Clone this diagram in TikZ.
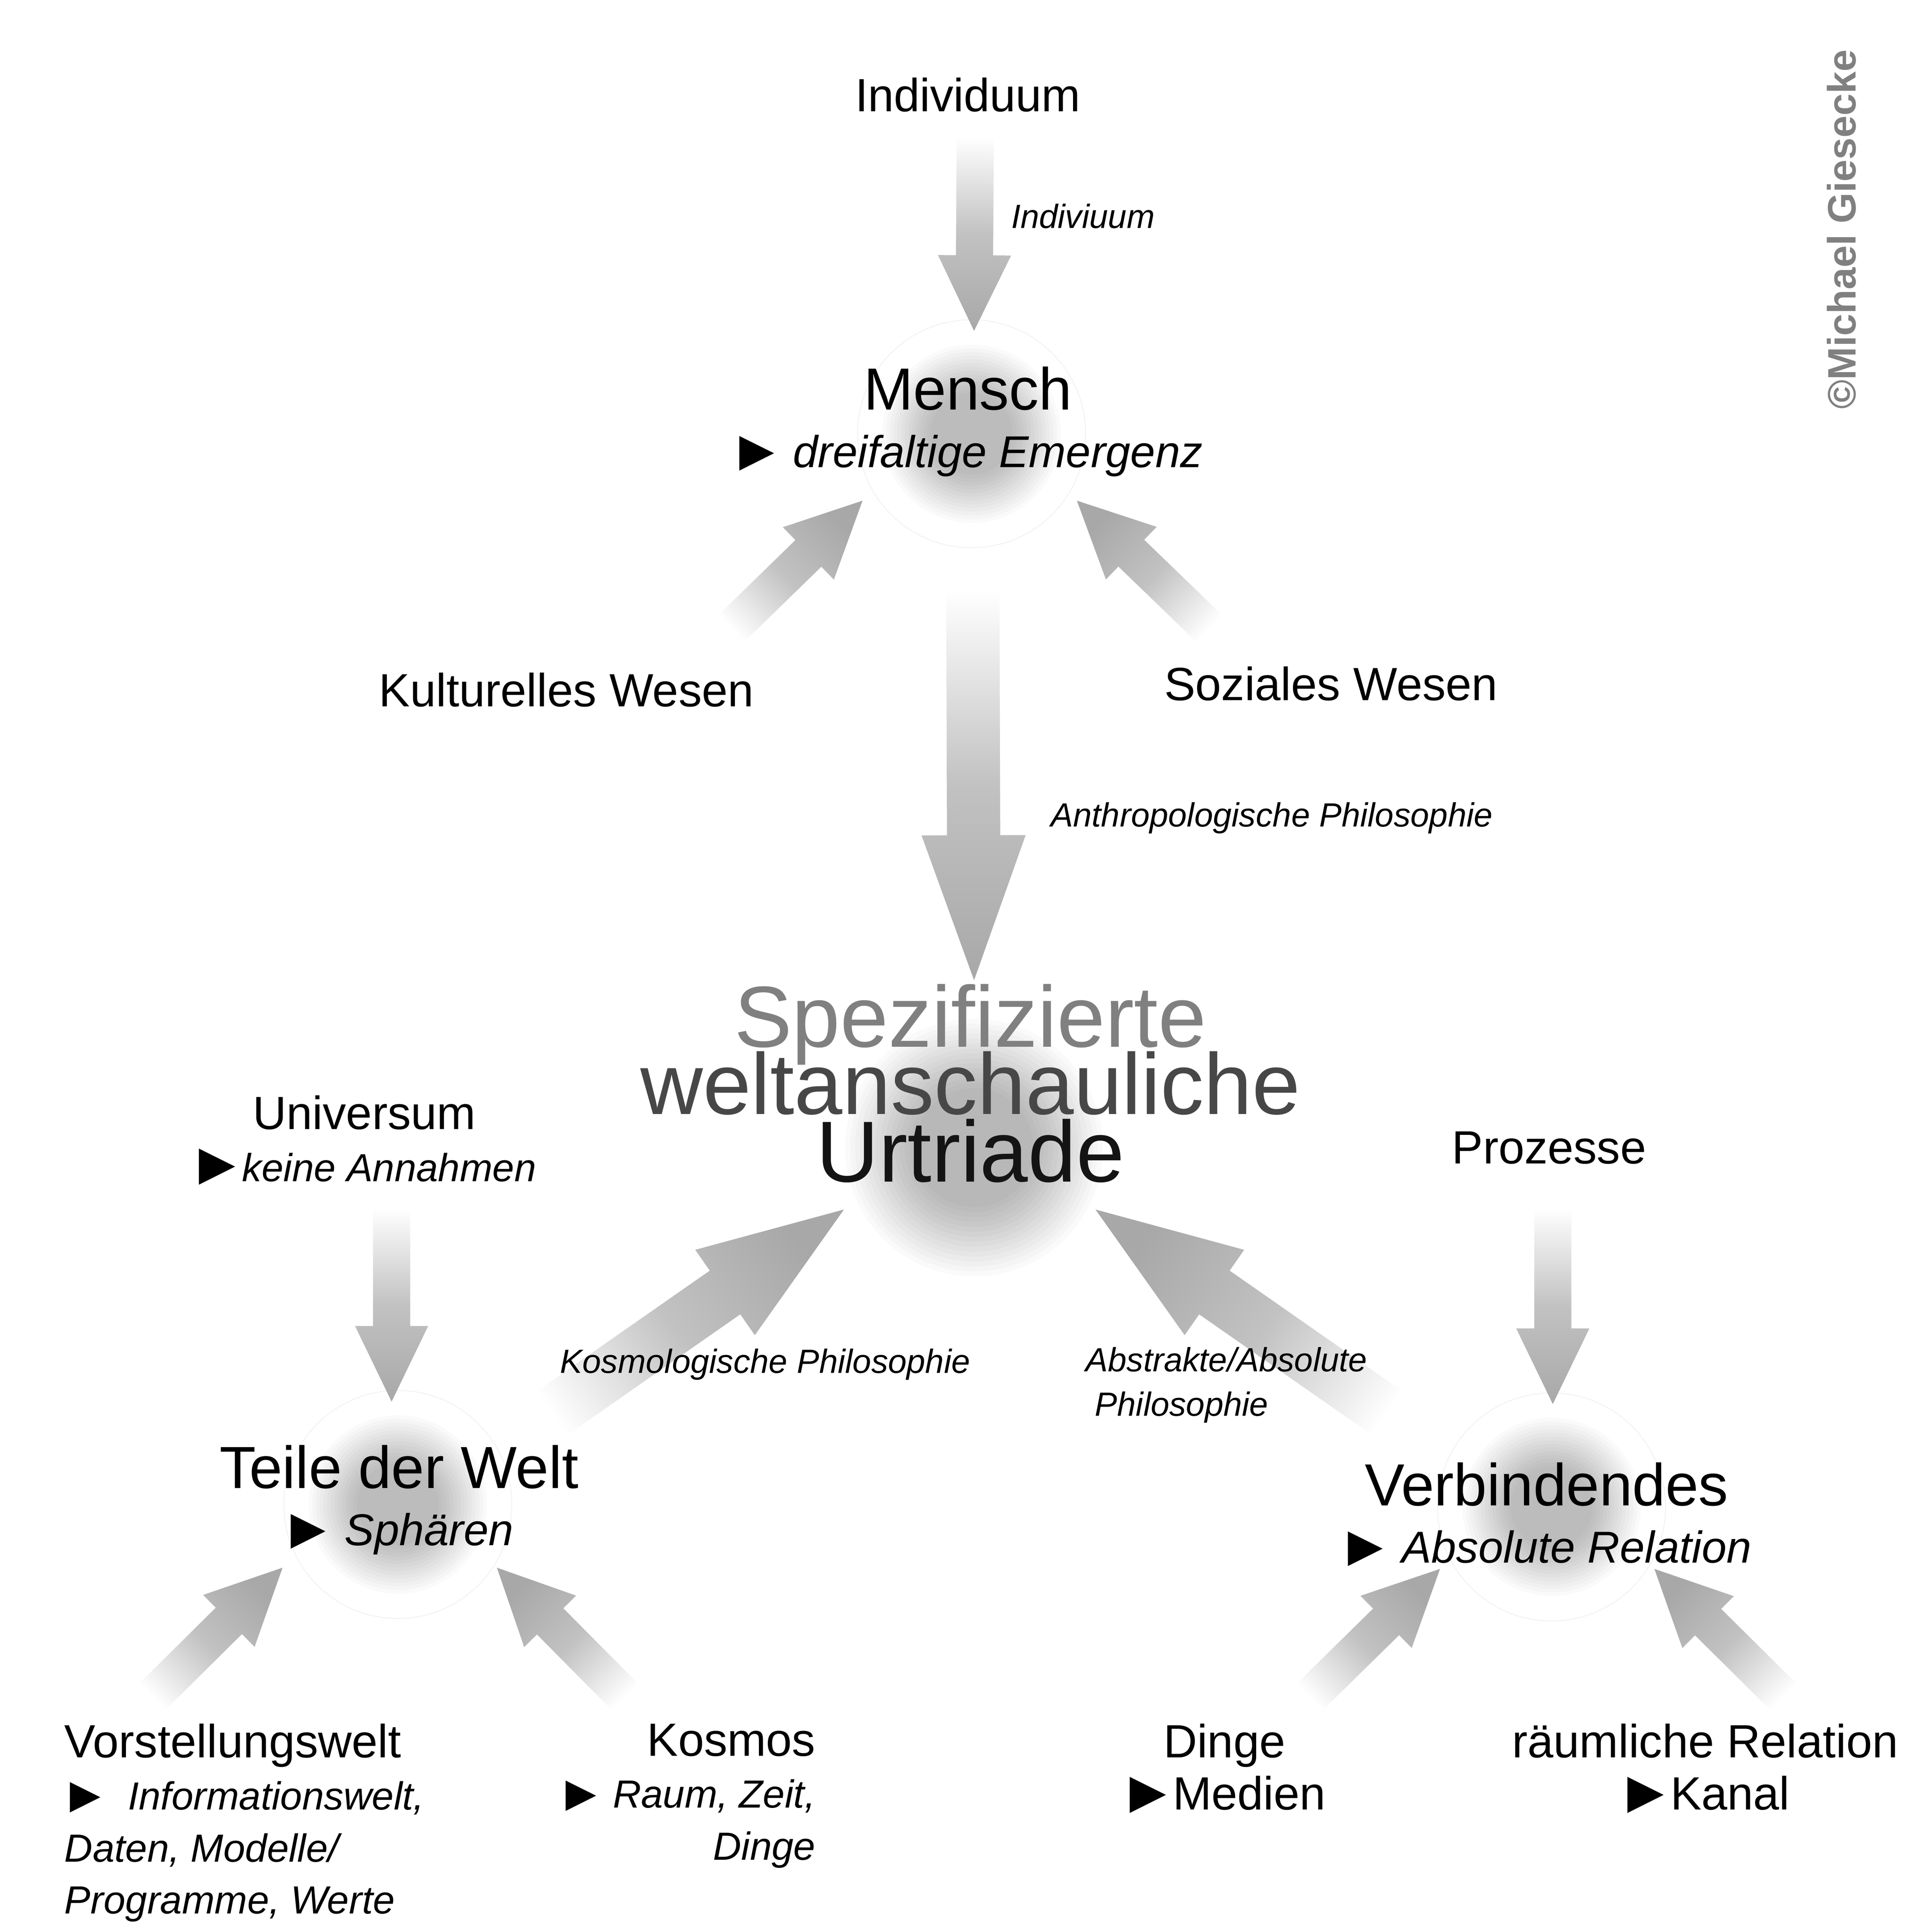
\documentclass[tikz,border=0pt]{standalone}
\usepackage{fontspec}
\usepackage{graphicx}
\setmainfont{Liberation Sans}
\usetikzlibrary{calc}

\newcommand{\bigfont}{\fontsize{13.65}{13.2}\selectfont}
\newcommand{\subfont}{\fontsize{9}{11.95}\selectfont}
\newcommand{\titlefont}{\fontsize{19.9}{15.5}\selectfont\lineskiplimit -50pt\relax}
\newcommand{\tri}{\hspace{-0.11em}\raisebox{-0.06em}{\scalebox{1.3}{►}}\hspace{-0.11em}}

% block arrow: tail, tip, shaft half width, head half width, head length
\newcommand{\blockarrow}[5]{%
  \pgfmathanglebetweenpoints{\pgfpointanchor{#1}{center}}{\pgfpointanchor{#2}{center}}%
  \pgfmathsetmacro{\arrowangle}{\pgfmathresult+90}%
  \coordinate (headbase) at ($(#2)!#5!(#1)$);
  \shade[arrowfill, shading angle=\arrowangle]
    ($(#1)!#3!90:(#2)$) -- ($(headbase)!#3!90:(#2)$) -- ($(headbase)!#4!90:(#2)$) -- (#2)
    -- ($(headbase)!#4!-90:(#2)$) -- ($(headbase)!#3!-90:(#2)$) -- ($(#1)!#3!-90:(#2)$) -- cycle;
}

\begin{document}
\begin{tikzpicture}[x=0.1mm,y=-0.1mm]
\tikzstyle{every node}=[inner sep=0pt, outer sep=0pt]
\tikzstyle{label}=[font=\fontsize{10.7}{11.95}\selectfont]
\tikzstyle{head}=[font=\fontsize{10.25}{13.2}\selectfont, align=center]
\tikzstyle{note}=[font=\fontsize{7.7}{10.24}\selectfont\itshape]
\tikzstyle{title}=[font=\titlefont, align=center]
\tikzstyle{glowlayer}=[black, opacity=0.02]
\tikzstyle{rim}=[draw=black!5, line width=0.2pt]
\tikzstyle{arrowfill}=[top color=white, bottom color=black!34, middle color=black!24]

\useasboundingbox (0,0) rectangle (1559,1559);
\fill[white] (0,0) rectangle (1559,1559);

% glows behind the nodes
\foreach \cx/\cy in {784/350, 321/1214, 1252/1216}{
  \draw[rim] (\cx,\cy) circle (92);
  \foreach \r in {72,69,...,33}
    \fill[glowlayer] (\cx,\cy) circle (\r);
}
\foreach \r in {104,100,...,48}
  \fill[glowlayer] (786,926) circle (\r);

% arrow ends
\coordinate (indiv tail) at (787,110);
\coordinate (indiv tip) at (786,267);
\coordinate (kult tail) at (582,515);
\coordinate (kult tip) at (696,404);
\coordinate (sozial tail) at (984,515);
\coordinate (sozial tip) at (869,404);
\coordinate (anthro tail) at (785,475);
\coordinate (anthro tip) at (786,791);
\coordinate (univ tail) at (316,975);
\coordinate (univ tip) at (316,1131);
\coordinate (proz tail) at (1253,975);
\coordinate (proz tip) at (1253,1133);
\coordinate (kosmo tail) at (423,1156);
\coordinate (kosmo tip) at (681,976);
\coordinate (abstr tail) at (1142,1156);
\coordinate (abstr tip) at (884,976);
\coordinate (vorst tail) at (115,1377);
\coordinate (vorst tip) at (228,1265);
\coordinate (kosmos tail) at (512,1377);
\coordinate (kosmos tip) at (401,1265);
\coordinate (dinge tail) at (1049,1377);
\coordinate (dinge tip) at (1162,1266);
\coordinate (raum tail) at (1447,1377);
\coordinate (raum tip) at (1335,1266);

% small arrows
\blockarrow{indiv tail}{indiv tip}{1.5mm}{2.95mm}{6.1mm}
\blockarrow{kult tail}{kult tip}{1.5mm}{2.95mm}{6.1mm}
\blockarrow{sozial tail}{sozial tip}{1.5mm}{2.95mm}{6.1mm}
\blockarrow{univ tail}{univ tip}{1.5mm}{2.95mm}{6.1mm}
\blockarrow{proz tail}{proz tip}{1.5mm}{2.95mm}{6.1mm}
\blockarrow{vorst tail}{vorst tip}{1.5mm}{2.95mm}{6.1mm}
\blockarrow{kosmos tail}{kosmos tip}{1.5mm}{2.95mm}{6.1mm}
\blockarrow{dinge tail}{dinge tip}{1.5mm}{2.95mm}{6.1mm}
\blockarrow{raum tail}{raum tip}{1.5mm}{2.95mm}{6.1mm}
% big arrows
\blockarrow{anthro tail}{anthro tip}{2.15mm}{4.2mm}{11.7mm}
\blockarrow{kosmo tail}{kosmo tip}{2.15mm}{4.2mm}{11.7mm}
\blockarrow{abstr tail}{abstr tip}{2.15mm}{4.2mm}{11.7mm}

% top
\node[label, anchor=base] (individuum) at (781,90) {Individuum};
\node[note, anchor=base west] (indivlabel) at (816,184) {Indiviuum};
\node[head, anchor=north] (mensch) at (781,296) {{\bigfont Mensch}\\ \tri\ \textit{dreifaltige Emergenz}};
\node[label, anchor=base] (kulturell) at (457,570) {Kulturelles Wesen};
\node[label, anchor=base] (sozial) at (1074,565) {Soziales Wesen};
\node[note, anchor=base west] (anthrolabel) at (848,667) {Anthropologische Philosophie};

% centre
\node[title, anchor=north] (urtriade) at (783,794) {{\color{black!50}Spezifizierte}\\ {\color{black!72}weltanschauliche}\\ {\color{black!92}Urtriade}};

% left
\node[label, align=center, anchor=north] (universum) at (294,884) {Universum\\ \tri{\subfont\itshape keine Annahmen}};
\node[note, anchor=base west] (kosmolabel) at (452,1108) {Kosmologische Philosophie};
\node[head, anchor=north] (teile) at (322,1166) {{\bigfont Teile der Welt}\\ \tri\ \textit{Sphären}};
\node[label, align=left, anchor=north west] (vorstellung) at (52,1391) {Vorstellungswelt\\ {\subfont \tri\ \ \textit{Informationswelt,}}\\ {\subfont\itshape Daten, Modelle/}\\ {\subfont\itshape Programme, Werte}};
\node[label, align=right, anchor=north east] (kosmos) at (658,1391) {Kosmos\\ {\subfont \tri\ \textit{Raum, Zeit,}}\\ {\subfont\itshape Dinge}};

% right
\node[label, anchor=base] (prozesse) at (1250,939) {Prozesse};
\node[note, align=left, anchor=north west] (abstrlabel) at (876,1087) {Abstrakte/Absolute\\ \ Philosophie};
\node[head, anchor=north] (verbindend) at (1248,1180) {{\bigfont Verbindendes}\\ \tri\ \textit{Absolute Relation}};
\node[label, align=center, anchor=north] (dinge) at (988,1391) {Dinge\\ \tri Medien};
\node[label, align=center, anchor=north] (raeumlich) at (1376,1391) {räumliche Relation\\ \tri Kanal};

\node[font=\fontsize{9.1}{10}\selectfont\bfseries, text=black!50, rotate=90] (copyright) at (1486,185) {©Michael Giesecke};
\end{tikzpicture}
\end{document}
